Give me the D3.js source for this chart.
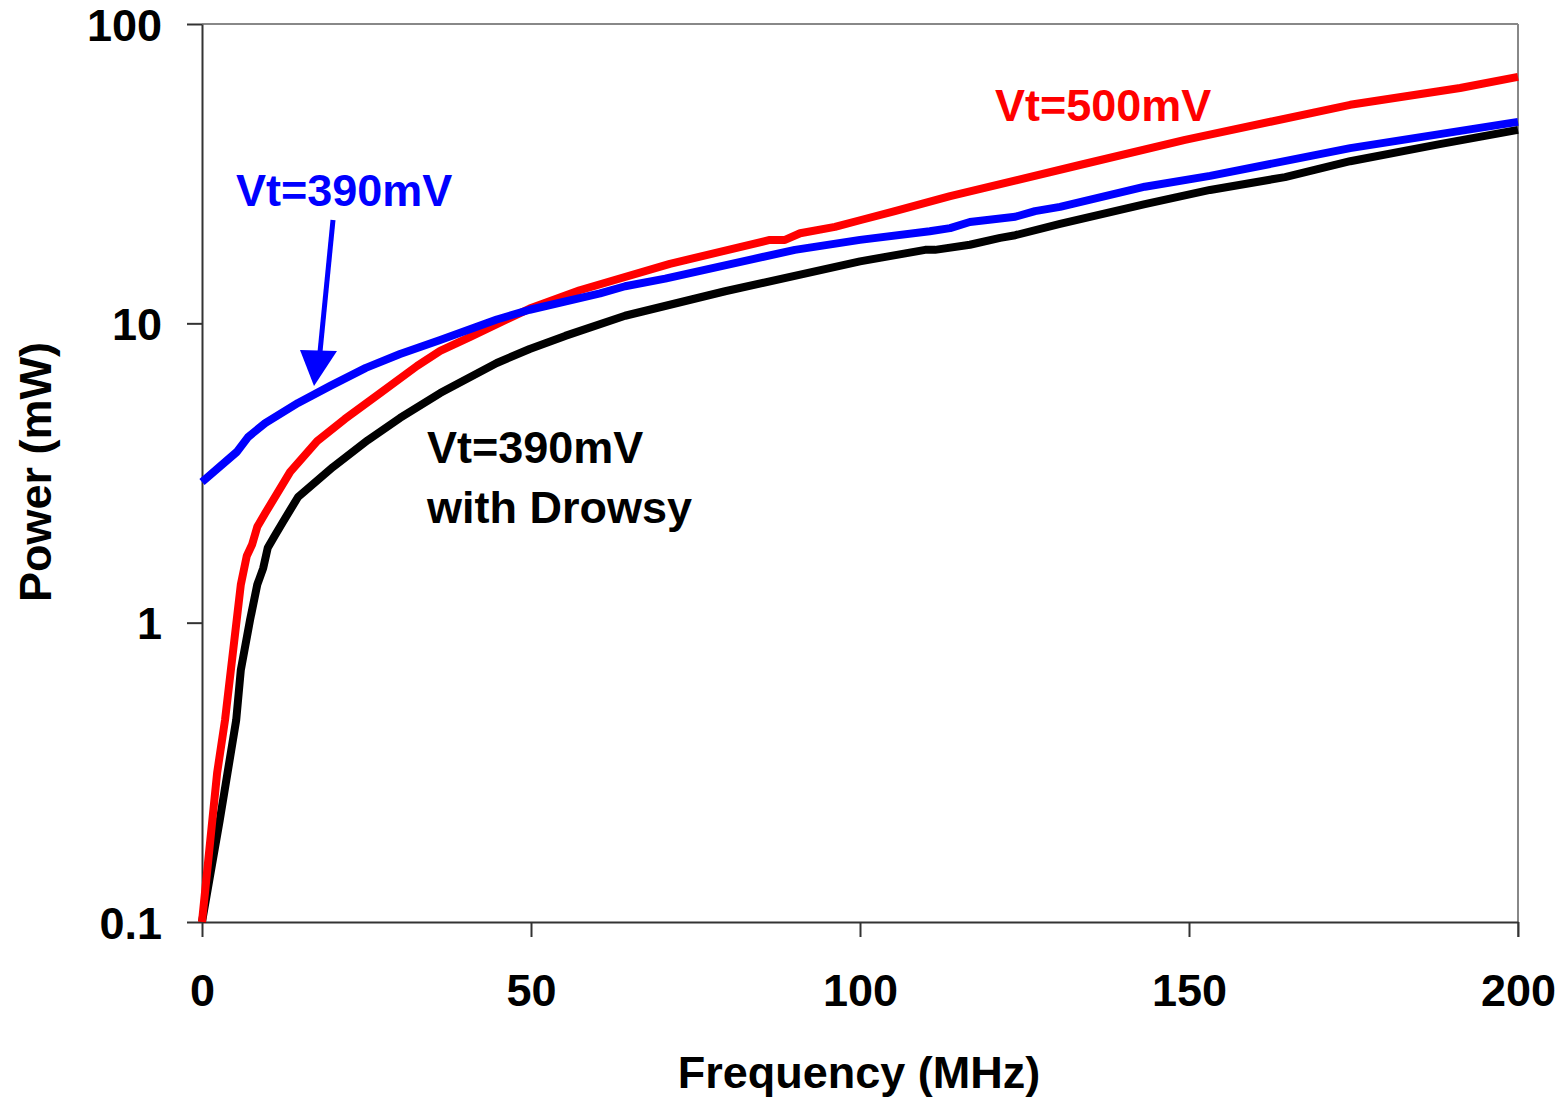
<!DOCTYPE html>
<html>
<head>
<meta charset="utf-8">
<script src="https://cdn.jsdelivr.net/npm/d3@7"></script>
<style>
	body { margin: 0; background: #fff; }
	text { font-family: "Liberation Sans", Arial, sans-serif; font-weight: bold; }
</style>
</head>
<body>
<div id="chart"></div>
<script>
// Frequency (MHz) / power (mW) readings for each curve
const freqVt500 = [0, 2.3, 3.5, 5.9, 6.8, 7.6, 8.4, 9.6, 13.4, 17.5, 21.7, 27.1, 32.7, 36.2, 40.7, 49.8, 57.4, 71.1, 86.3, 88.6, 90.9, 96.2, 100, 105.3, 113.7, 133.4, 149.4, 174.5, 191.2, 200];
const powerVt500 = [0.1, 0.315, 0.473, 1.34, 1.67, 1.82, 2.09, 2.32, 3.19, 4.04, 4.79, 5.85, 7.21, 8.09, 9.0, 11.2, 12.9, 15.8, 19.0, 19.0, 20.0, 21.0, 22.1, 23.7, 26.6, 33.8, 41.0, 53.7, 61.1, 66.6];

const freqVt390 = [0, 5.3, 7.0, 9.6, 14.6, 19.5, 24.9, 30.1, 36.2, 44.8, 49.8, 60.5, 64.3, 70.4, 90.1, 100, 110.6, 113.7, 116.7, 123.6, 126.6, 130.4, 143.3, 153.2, 174.5, 200];
const powerVt390 = [2.95, 3.72, 4.17, 4.64, 5.42, 6.18, 7.10, 7.90, 8.80, 10.3, 11.1, 12.6, 13.3, 14.1, 17.6, 19.0, 20.3, 20.8, 21.8, 22.7, 23.7, 24.5, 28.6, 31.1, 38.5, 47.1];

const freqDrowsy = [0, 2.7, 5.2, 5.9, 7.3, 8.4, 9.3, 10.0, 11.1, 12.3, 14.6, 19.9, 25.2, 30.1, 36.2, 44.8, 49.8, 55.2, 64.3, 79.5, 100, 109.9, 111.4, 116.7, 121.3, 123.6, 130.4, 143.3, 153.2, 164.6, 174.5, 188.1, 200];
const powerDrowsy = [0.1, 0.219, 0.473, 0.695, 1.02, 1.34, 1.52, 1.78, 1.96, 2.17, 2.63, 3.31, 4.07, 4.83, 5.85, 7.37, 8.21, 9.08, 10.6, 12.8, 16.1, 17.6, 17.6, 18.3, 19.3, 19.7, 21.5, 25.0, 27.9, 30.8, 34.8, 39.7, 44.3];

const xTicks = [0, 50, 100, 150, 200];
const yTicks = [0.1, 1, 10, 100];

const width = 1567;
const height = 1098;
const margin = {top: 24, right: 49, bottom: 176, left: 202};
const fontSize = '45px';

const svg = d3
	.select('#chart')
	.append('svg')
	.attr('width', width)
	.attr('height', height);

const x = d3
	.scaleLinear()
	.domain([0, 200])
	.range([margin.left, width - margin.right]);

const y = d3
	.scaleLog()
	.domain([0.1, 100])
	.range([height - margin.bottom, margin.top]);

// Frame: grey top/right, dark left/bottom
svg.append('line')
	.attr('x1', x(0)).attr('x2', x(200))
	.attr('y1', y(100)).attr('y2', y(100))
	.attr('stroke', '#888').attr('stroke-width', 2);
svg.append('line')
	.attr('x1', x(200)).attr('x2', x(200))
	.attr('y1', y(100)).attr('y2', y(0.1) + 15)
	.attr('stroke', '#888').attr('stroke-width', 2);

const xAxis = svg
	.append('g')
	.attr('transform', `translate(0,${y(0.1)})`)
	.call(d3.axisBottom(x).tickValues(xTicks).tickSize(15).tickSizeOuter(0).tickPadding(37));

const yAxis = svg
	.append('g')
	.attr('transform', `translate(${x(0)},0)`)
	.call(d3.axisLeft(y).tickValues(yTicks).tickFormat(d3.format('')).tickSize(15).tickSizeOuter(0).tickPadding(25));

[xAxis, yAxis].forEach(g => {
	g.select('.domain').attr('stroke', '#333').attr('stroke-width', 2);
	g.selectAll('.tick line').attr('stroke', '#333').attr('stroke-width', 2);
	g.selectAll('.tick text')
		.attr('fill', '#000')
		.style('font-size', fontSize)
		.style('font-family', '"Liberation Sans", Arial, sans-serif')
		.style('font-weight', 'bold');
});
xAxis.selectAll('.tick text').attr('dy', '0.71em');
yAxis.selectAll('.tick text').attr('dy', '0.36em');

const line = d3
	.line()
	.x(d => x(d[0]))
	.y(d => y(d[1]));

const series = [
	{f: freqDrowsy, p: powerDrowsy, color: '#000'},
	{f: freqVt500, p: powerVt500, color: '#ff0000'},
	{f: freqVt390, p: powerVt390, color: '#0000ff'},
];

series.forEach(s => {
	svg.append('path')
		.datum(d3.zip(s.f, s.p))
		.attr('d', line)
		.attr('fill', 'none')
		.attr('stroke', s.color)
		.attr('stroke-width', 8)
		.attr('stroke-linejoin', 'round');
});

// Annotations
svg.append('text')
	.attr('x', 236).attr('y', 206)
	.attr('fill', '#0000ff')
	.style('font-size', fontSize)
	.text('Vt=390mV');

svg.append('text')
	.attr('x', 995).attr('y', 121)
	.attr('fill', '#ff0000')
	.style('font-size', fontSize)
	.text('Vt=500mV');

svg.append('text')
	.attr('x', 427).attr('y', 463)
	.attr('fill', '#000')
	.style('font-size', fontSize)
	.text('Vt=390mV');

svg.append('text')
	.attr('x', 427).attr('y', 523)
	.attr('fill', '#000')
	.style('font-size', fontSize)
	.text('with Drowsy');

// Arrow pointing at the blue curve
svg.append('line')
	.attr('x1', 333).attr('y1', 220)
	.attr('x2', 320).attr('y2', 352)
	.attr('stroke', '#0000ff')
	.attr('stroke-width', 5);
svg.append('path')
	.attr('d', 'M300,350 L337,351 L314,386 Z')
	.attr('fill', '#0000ff');

// Axis titles
svg.append('text')
	.attr('x', 859).attr('y', 1088)
	.attr('text-anchor', 'middle')
	.style('font-size', fontSize)
	.text('Frequency (MHz)');

svg.append('text')
	.attr('transform', 'translate(51,472) rotate(-90)')
	.attr('text-anchor', 'middle')
	.style('font-size', fontSize)
	.text('Power (mW)');
</script>
</body>
</html>
